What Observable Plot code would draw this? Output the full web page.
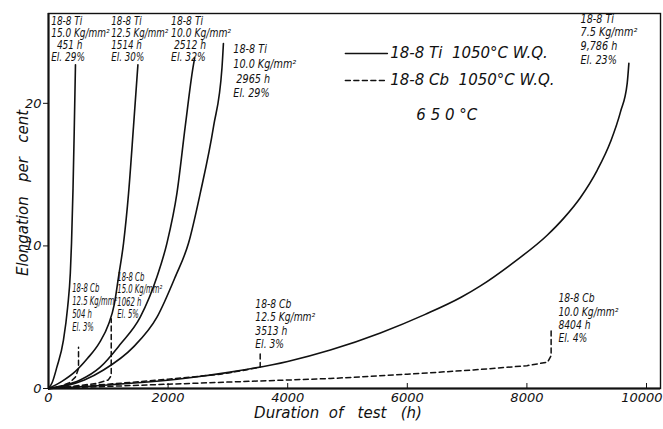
<!DOCTYPE html>
<html><head><meta charset="utf-8">
<script src="https://cdn.jsdelivr.net/npm/d3@7"></script>
<script src="https://cdn.jsdelivr.net/npm/@observablehq/plot@0.6"></script>
<style>
html,body{margin:0;padding:0;background:#fff;}
#chart{width:663px;height:429px;overflow:hidden;}
</style></head>
<body><div id="chart"></div>
<script>
// Solid curves: 18-8 Ti 1050°C W.Q.
const ti150H = [0, 60, 140, 250, 320, 365, 385, 410, 430, 451];
const ti150E = [0, 0.4, 1.5, 3.4, 5.7, 8.1, 10.2, 14, 18, 22.7];
const ti125H = [0, 224, 450, 650, 850, 1004, 1100, 1171, 1255, 1339, 1422, 1495];
const ti125E = [0, 0.5, 1.2, 2.1, 3.2, 4.5, 5.9, 7.83, 10.2, 13.7, 18.4, 22.7];
const ti100aH = [0, 250, 530, 865, 1200, 1534, 1814, 1981, 2148, 2287, 2416, 2445];
const ti100aE = [0, 0.2, 0.6, 1.5, 3.1, 5.0, 7.83, 10.2, 13.7, 18.4, 22.5, 23.2];
const ti100bH = [0, 300, 600, 920, 1422, 1814, 2120, 2342, 2538, 2761, 2901, 2925];
const ti100bE = [0, 0.2, 0.6, 1.3, 2.92, 5.0, 7.83, 10.2, 13.7, 18.4, 22.5, 24.2];
const ti75H = [0, 1000, 2255, 3040, 4000, 4713, 5550, 6300, 6900, 7223, 7780, 8339, 8617, 8896, 9175, 9398, 9565, 9677, 9705];
const ti75E = [0, 0.25, 0.7, 1.15, 1.9, 2.7, 3.9, 5.2, 6.4, 7.2, 8.85, 10.75, 11.95, 13.4, 15.3, 17.3, 19.4, 21.4, 22.8];
// Dashed curves: 18-8 Cb 1050°C W.Q.
const cb125aH = [0, 200, 350, 450, 502, 502];
const cb125aE = [0, 0.15, 0.4, 0.8, 1.4, 2.9];
const cb150H = [0, 400, 800, 1000, 1049, 1049];
const cb150E = [0, 0.15, 0.35, 0.6, 0.9, 4.9];
const cb125bH = [0, 1000, 2000, 2870, 3300, 3540, 3540];
const cb125bE = [0, 0.3, 0.65, 1.0, 1.3, 1.5, 2.5];
const cb100H = [0, 1000, 2000, 3000, 4713, 6000, 7107, 8000, 8345, 8405, 8405];
const cb100E = [0, 0.15, 0.3, 0.45, 0.7, 1.0, 1.3, 1.6, 1.85, 2.3, 4.2];

// Axis ticks
const xTicks = [0, 2000, 4000, 6000, 8000, 10000];
const xTickLabels = ["0", "2000", "4000", "6000", "8000", "10000"];
const yTicks = [0, 10, 20];

// Curve labels (text and anchor in data units)
const labelText = [
  "18-8 Ti\n15.0 Kg/mm²\n  451 h\nEl. 29%",
  "18-8 Ti\n12.5 Kg/mm²\n1514 h\nEl. 30%",
  "18-8 Ti\n10.0 Kg/mm²\n 2512 h\nEl. 32%",
  "18-8 Ti\n10.0 Kg/mm²\n 2965 h\nEl. 29%",
  "18-8 Ti\n7.5 Kg/mm²\n9,786 h\nEl. 23%",
  "18-8 Cb\n12.5 Kg/mm²\n504 h\nEl. 3%",
  "18-8 Cb\n15.0 Kg/mm²\n1062 h\nEl. 5%",
  "18-8 Cb\n12.5 Kg/mm²\n3513 h\nEl. 3%",
  "18-8 Cb\n10.0 Kg/mm²\n8404 h\nEl. 4%"
];
const labelH = [45, 1050, 2050, 3090, 8896, 397, 1150, 3458, 8527];
const labelE = [26.1, 26.1, 26.1, 24.3, 26.35, 7.45, 8.2, 6.3, 6.7];

// Legend
const legendText = ["18-8 Ti  1050°C W.Q.", "18-8 Cb  1050°C W.Q."];
const legendKind = ["solid", "dashed"];
const legendLineH = [4964, 5667];
const legendTextH = 5715;
const legendE = [23.5, 21.6];
const tempText = "6 5 0 °C";
const tempH = 6660;
const tempE = 19.2;

function series(name, kind, H, E) {
  return H.map((h, i) => ({name, kind, h, e: E[i]}));
}
const curves = [
  ...series("ti150", "solid", ti150H, ti150E),
  ...series("ti125", "solid", ti125H, ti125E),
  ...series("ti100a", "solid", ti100aH, ti100aE),
  ...series("ti100b", "solid", ti100bH, ti100bE),
  ...series("ti75", "solid", ti75H, ti75E),
  ...series("cb125a", "dashed", cb125aH, cb125aE),
  ...series("cb150", "dashed", cb150H, cb150E),
  ...series("cb125b", "dashed", cb125bH, cb125bE),
  ...series("cb100", "dashed", cb100H, cb100E)
];
const solid = curves.filter(d => d.kind === "solid");
const dashed = curves.filter(d => d.kind === "dashed");
const labels = labelText.map((t, i) => ({t, h: labelH[i], e: labelE[i]}));
const legendLines = legendKind.flatMap((k, i) => legendLineH.map(h => ({k, h, e: legendE[i]})));

// label styling (line height, horizontal squeeze)
const labelLineHeight = [1.05, 1.05, 1.05, 1.3, 1.2, 1.15, 1.1, 1.15, 1.15];
const labelSqueeze = [0.78, 0.76, 0.8, 0.84, 0.84, 0.6, 0.6, 0.8, 0.8];

const font2 = "'DejaVu Sans', sans-serif";
const lastTick = xTicks[xTicks.length - 1];
const marks = [
  Plot.frame({stroke: "#111", strokeWidth: 1.4}),
  Plot.ruleX([0], {stroke: "#111", strokeWidth: 2}),
  Plot.ruleY([0], {stroke: "#111", strokeWidth: 2}),
  Plot.axisX(xTicks, {tickSize: -5, tickPadding: 9, tickFormat: d => d === lastTick ? "" : xTickLabels[xTicks.indexOf(d)], fontSize: 13, fontStyle: "italic", label: null}),
  Plot.text([lastTick], {x: d => d, y: () => 0, text: d => xTickLabels[xTicks.indexOf(d)], textAnchor: "end", lineAnchor: "top", dx: 16, dy: 4, fontSize: 13, fontStyle: "italic"}),
  Plot.axisY(yTicks, {tickSize: 5, tickPadding: 2, fontSize: 13, fontStyle: "italic", label: null}),
  Plot.line(solid, {x: "h", y: "e", z: "name", stroke: "#111", strokeWidth: 1.6, curve: "monotone-x"}),
  Plot.line(dashed, {x: "h", y: "e", z: "name", stroke: "#111", strokeWidth: 1.5, strokeDasharray: "5,3.5", curve: "linear"}),
  Plot.line(legendLines.filter(d => d.k === "solid"), {x: "h", y: "e", stroke: "#111", strokeWidth: 1.5}),
  Plot.line(legendLines.filter(d => d.k === "dashed"), {x: "h", y: "e", stroke: "#111", strokeWidth: 1.5, strokeDasharray: "5,3.5"}),
  Plot.text(legendText, {x: () => legendTextH, y: (d, i) => legendE[i], text: d => d, textAnchor: "start", fontSize: 15, fontStyle: "italic"}),
  Plot.text([tempText], {x: () => tempH, y: () => tempE, text: d => d, fontSize: 15, fontStyle: "italic"}),
  ...labels.map((l, i) => Plot.text([l], {x: "h", y: "e", text: "t", textAnchor: "start", lineAnchor: "top", lineHeight: labelLineHeight[i], fontSize: 11.5, fontStyle: "italic", className: "lbl" + i}))
];

const chart = Plot.plot({
  width: 663,
  height: 429,
  marginLeft: 48,
  marginRight: 3,
  marginTop: 13,
  marginBottom: 41,
  x: {domain: [0, 10234]},
  y: {domain: [0, 26.3]},
  style: {fontFamily: font2, background: "#fff", color: "#111"},
  marks
});
const svg = d3.select(chart);
labelSqueeze.forEach((s, i) => {
  svg.selectAll(".lbl" + i + " text").each(function() {
    const t = this.getAttribute("transform") || "";
    this.setAttribute("transform", t + ` scale(${s},1)`);
  });
});
svg.append("text").attr("x", 338).attr("y", 418).attr("text-anchor", "middle")
  .attr("font-size", 15).attr("font-style", "italic").attr("fill", "#111").attr("font-family", font2)
  .style("white-space", "pre")
  .text("Duration  of   test   (h)");
svg.append("text").attr("transform", "translate(28,193) rotate(-90)").attr("text-anchor", "middle")
  .attr("font-size", 15).attr("font-style", "italic").attr("fill", "#111").attr("font-family", font2)
  .style("white-space", "pre")
  .text("Elongation   per   cent");
document.getElementById("chart").appendChild(chart);
</script></body></html>
